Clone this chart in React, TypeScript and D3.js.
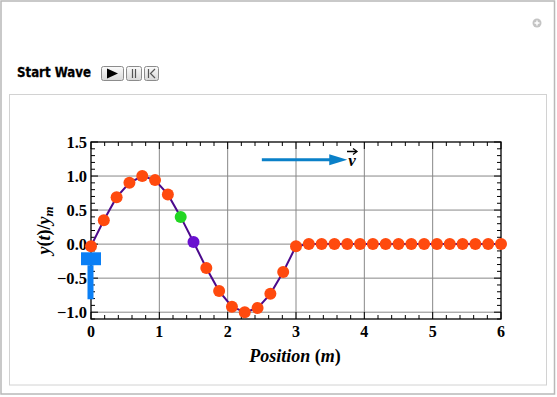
import React from "react";
import * as d3 from "d3";

const positions = [0, 0.1875, 0.375, 0.5625, 0.75, 0.9375, 1.125, 1.3125, 1.5, 1.6875, 1.875, 2.0625, 2.25, 2.4375, 2.625, 2.8125, 3.0, 3.1875, 3.375, 3.5625, 3.75, 3.9375, 4.125, 4.3125, 4.5, 4.6875, 4.875, 5.0625, 5.25, 5.4375, 5.625, 5.8125, 6.0];
const displacement = [-0.03, 0.35, 0.69, 0.9, 1.0, 0.94, 0.73, 0.4, 0.03, -0.35, -0.69, -0.92, -1.0, -0.94, -0.73, -0.41, -0.03, 0, 0, 0, 0, 0, 0, 0, 0, 0, 0, 0, 0, 0, 0, 0, 0];
const highlightGreen = 7;
const highlightPurple = 8;
const xTicks = [0, 1, 2, 3, 4, 5, 6];
const yTicks = [-1.0, -0.5, 0.0, 0.5, 1.0, 1.5];
const xDomain = [0, 6];
const yDomain = [-1.1, 1.5];
const driverBox = [-0.12, -0.31];
const driverStemEnd = -0.81;
const arrowX = [2.5, 3.75];
const arrowY = 1.24;

export default function App() {
  React.useEffect(() => {
    document.body.style.margin = "0";
  }, []);
  const W = 557, H = 397;
  const L = 91, R = 501, T = 142, B = 319;
  const x = d3.scaleLinear().domain(xDomain).range([L, R]);
  const y = d3.scaleLinear().domain(yDomain).range([B, T]);
  const line = d3.line<number>().x((_, i) => x(positions[i])).y((d) => y(d));
  const serif = "'Liberation Serif', 'DejaVu Serif', serif";
  const sans = "Tahoma, 'DejaVu Sans', 'Liberation Sans', sans-serif";

  const xMinor = d3.range(0, 6.0001, 0.2);
  const yMinor = d3.range(-1.1, 1.5001, 0.1);

  return (
    <svg width={W} height={H} style={{ position: "absolute", left: 0, top: 0, display: "block" }}>
      <defs>
        <linearGradient id="btn" x1="0" y1="0" x2="0" y2="1">
          <stop offset="0" stopColor="#fbfbfb" />
          <stop offset="1" stopColor="#d8d8d8" />
        </linearGradient>
      </defs>
      <rect x={0} y={0} width={W} height={H} fill="#fff" />
      <rect x={1} y={1} width={553.5} height={393} fill="#fff" stroke="#b8b8b8" strokeWidth={1.5} />
      <circle cx={537} cy={23} r={4.5} fill="#c4c4c4" />
      <path d="M534.5,23 h5 M537,20.5 v5" stroke="#fff" strokeWidth={1.4} />
      <text x={17} y={76.5} fontFamily={sans} fontWeight="bold" fontSize={13.5} textLength={74} lengthAdjust="spacingAndGlyphs" fill="#000" stroke="#000" strokeWidth={0.3}>Start Wave</text>
      {/* buttons */}
      <rect x={101.5} y={66.5} width={22} height={14} rx={2} fill="url(#btn)" stroke="#8c8c8c" />
      <path d="M107,68.5 L118,73.5 L107,78.5 Z" fill="#000" />
      <rect x={126.5} y={66.5} width={15} height={14} rx={2} fill="url(#btn)" stroke="#8c8c8c" />
      <path d="M132.5,69 v9 M135.5,69 v9" stroke="#555" strokeWidth={1.2} />
      <rect x={144.5} y={66.5} width={14} height={14} rx={2} fill="url(#btn)" stroke="#8c8c8c" />
      <path d="M148.5,69 v9" stroke="#555" strokeWidth={1.2} />
      <path d="M155,69 L150.5,73.5 L155,78" stroke="#555" strokeWidth={1.2} fill="none" />
      {/* inner panel */}
      <rect x={9.5} y={94.5} width={537} height={290.5} fill="#fff" stroke="#d2d2d2" />

      {/* grid */}
      {xTicks.slice(1, -1).map((t) => (
        <line key={"gx" + t} x1={x(t)} x2={x(t)} y1={T} y2={B} stroke="#888" strokeWidth={1} />
      ))}
      {yTicks.slice(0, -1).map((t) => (
        <line key={"gy" + t} x1={L} x2={R} y1={y(t)} y2={y(t)} stroke="#888" strokeWidth={1} />
      ))}
      {/* minor ticks */}
      {xMinor.map((t, i) => {
        const major = i % 5 === 0;
        const len = major ? 7 : 4;
        return (
          <g key={"xm" + i}>
            <line x1={x(t)} x2={x(t)} y1={B} y2={B - len} stroke="#000" />
            <line x1={x(t)} x2={x(t)} y1={T} y2={T + len} stroke="#000" />
          </g>
        );
      })}
      {yMinor.map((t, i) => {
        const major = Math.abs(Math.round(t * 10) % 5) === 0;
        const len = major ? 7 : 4;
        return (
          <g key={"ym" + i}>
            <line x1={L} x2={L + len} y1={y(t)} y2={y(t)} stroke="#000" />
            <line x1={R} x2={R - len} y1={y(t)} y2={y(t)} stroke="#000" />
          </g>
        );
      })}
      <rect x={L} y={T} width={R - L} height={B - T} fill="none" stroke="#000" strokeWidth={1.3} />

      {/* tick labels */}
      {xTicks.map((t) => (
        <text key={"xl" + t} x={x(t)} y={337} textAnchor="middle" fontFamily={serif} fontWeight="bold" fontSize={16}>{t}</text>
      ))}
      {yTicks.map((t) => (
        <text key={"yl" + t} x={87} y={y(t) + 5.5} textAnchor="end" fontFamily={serif} fontWeight="bold" fontSize={16.5}>
          {t < 0 ? "\u2212" + Math.abs(t).toFixed(1) : t.toFixed(1)}
        </text>
      ))}
      <text x={295} y={362} textAnchor="middle" fontFamily={serif} fontWeight="bold" fontSize={18}>
        <tspan fontStyle="italic">Position</tspan> (<tspan fontStyle="italic">m</tspan>)
      </text>
      <text transform={`translate(50,${(T + B) / 2}) rotate(-90)`} textAnchor="middle" fontFamily={serif} fontWeight="bold" fontSize={18}>
        <tspan fontStyle="italic">y</tspan>(<tspan fontStyle="italic">t</tspan>)/<tspan fontStyle="italic">y</tspan>
        <tspan fontStyle="italic" fontSize={13} dy={3}>m</tspan>
      </text>

      {/* velocity arrow */}
      <line x1={x(arrowX[0])} x2={x(arrowX[1]) - 14} y1={y(arrowY)} y2={y(arrowY)} stroke="#0a80c8" strokeWidth={3} />
      <path d={`M${x(arrowX[1]) - 18},${y(arrowY) - 5.5} L${x(arrowX[1])},${y(arrowY)} L${x(arrowX[1]) - 18},${y(arrowY) + 5.5} Z`} fill="#0a80c8" />
      <text x={352} y={166} textAnchor="middle" fontFamily={serif} fontWeight="bold" fontStyle="italic" fontSize={17}>v</text>
      <path d="M347,151.5 h9" stroke="#000" strokeWidth={1.5} />
      <path d="M353,148.5 L357,151.5 L353,154.5" stroke="#000" strokeWidth={1.3} fill="none" />

      {/* wave line */}
      <path d={line(displacement) || ""} fill="none" stroke="#4b0a8c" strokeWidth={2} />
      {/* driver */}
      <rect x={x(0) - 10} y={y(driverBox[0])} width={20} height={y(driverBox[1]) - y(driverBox[0])} fill="#0a7ff5" />
      <rect x={x(0) - 3.5} y={y(driverBox[1])} width={6} height={y(driverStemEnd) - y(driverBox[1])} fill="#0a7ff5" />
      {/* points */}
      {displacement.map((d, i) => (
        <circle key={"p" + i} cx={x(positions[i])} cy={y(d)} r={6}
          fill={i === highlightGreen ? "#22d622" : i === highlightPurple ? "#6a10d0" : "#ff4a0e"} />
      ))}
    </svg>
  );
}
